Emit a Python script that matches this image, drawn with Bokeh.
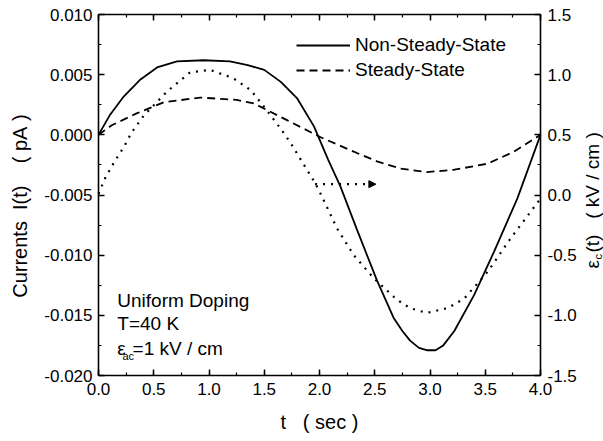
import math
from bokeh.plotting import figure
from bokeh.models import (Range1d, LinearAxis, SingleIntervalTicker, PrintfTickFormatter,
                          Legend, LegendItem, Label, Arrow, NormalHead)
from bokeh.embed import file_html
from bokeh.resources import INLINE

# ---------------- data ----------------
nss_t = [0.0, 0.1, 0.23, 0.38, 0.53, 0.71, 0.95, 1.19, 1.35, 1.5, 1.65, 1.8, 1.95, 2.08,
         2.19, 2.34, 2.52, 2.67, 2.75, 2.82, 2.90, 2.97, 3.05, 3.12, 3.22, 3.4, 3.58, 3.79, 4.0]
nss_current = [0.0, 0.0016, 0.0032, 0.0046, 0.0056, 0.0061, 0.0062, 0.0061, 0.0058, 0.0054,
               0.0044, 0.0030, 0.0007, -0.0021, -0.0043, -0.0079, -0.0121, -0.0152, -0.0163,
               -0.0171, -0.0177, -0.0179, -0.0179, -0.0175, -0.0163, -0.0133, -0.0097, -0.0053, 0.0]

ss_t = [0.0, 0.12, 0.35, 0.59, 0.92, 1.25, 1.41, 1.71, 2.01, 2.31, 2.52, 2.73, 2.97, 3.22,
        3.52, 3.76, 4.0]
ss_current = [0.0, 0.0008, 0.0018, 0.0027, 0.0031, 0.0029, 0.0026, 0.0012, -0.0002, -0.0014,
              -0.0022, -0.0028, -0.0031, -0.0029, -0.0024, -0.0014, 0.0]

field_t = [0.0, 0.06, 0.14, 0.23, 0.30, 0.41, 0.62, 0.83, 1.01, 1.22, 1.38, 1.50, 1.65, 1.74,
           1.86, 1.96, 2.01, 2.16, 2.31, 2.49, 2.70, 2.82, 2.97, 3.16, 3.31, 3.52, 3.73, 4.0]
field_kv = [0.01, 0.14, 0.27, 0.40, 0.52, 0.66, 0.86, 1.02, 1.04, 0.97, 0.87, 0.73, 0.55, 0.43,
            0.25, 0.10, 0.01, -0.28, -0.50, -0.69, -0.87, -0.94, -0.98, -0.94, -0.86, -0.64,
            -0.36, -0.03]

arrow_t = [1.96, 2.51]
arrow_field = [0.09, 0.09]

legend_labels = ["Non-Steady-State", "Steady-State"]
x_label = "t\u00a0\u00a0\u00a0(\u00a0sec\u00a0)"
y_label = "Currents\u00a0\u00a0I(t)\u00a0\u00a0\u00a0\u00a0(\u00a0pA\u00a0)" + "\u00a0" * 4
y2_label_parts = ["\u03b5", "c", "(t)\u00a0\u00a0\u00a0(\u00a0kV\u00a0/\u00a0cm\u00a0)"]
note_lines = ["Uniform Doping", "T=40 K"]
note_eps = ["\u03b5", "ac", "=1 kV / cm"]

T_MIN, T_MAX = 0.0, 4.0
I_MIN, I_MAX = -0.020, 0.010
E_MIN, E_MAX = -1.5, 1.5

FONT = "Liberation Sans"
W, H = 603, 441
# plot box inside the canvas (pixels): left, right, top, bottom
BOX_L, BOX_R, BOX_T, BOX_B = 98, 540, 14, 375

# the frame covers the whole canvas; axes sit at fixed locations around the plot box,
# so that every text around the box stays inside the (clipped) frame
px_t = (BOX_R - BOX_L) / (T_MAX - T_MIN)
px_i = (BOX_B - BOX_T) / (I_MAX - I_MIN)
px_e = (BOX_B - BOX_T) / (E_MAX - E_MIN)
x_view = Range1d(T_MIN - BOX_L / px_t, T_MAX + (W - BOX_R) / px_t)
y_view = Range1d(I_MIN - (H - BOX_B) / px_i, I_MAX + BOX_T / px_i)
e_view = Range1d(E_MIN - (H - BOX_B) / px_e, E_MAX + BOX_T / px_e)

p = figure(width=W, height=H, output_backend="svg", toolbar_location=None,
           x_range=x_view, y_range=y_view, x_axis_type=None, y_axis_type=None,
           min_border_left=0, min_border_right=0, min_border_top=0, min_border_bottom=0)
p.extra_y_ranges = {"field": e_view}
p.grid.visible = False
p.outline_line_color = None
p.background_fill_color = "white"
p.border_fill_color = "white"


def style(ax, font_size="17px"):
    ax.axis_line_width = 1.6
    ax.axis_line_color = "black"
    ax.major_tick_in = 6
    ax.major_tick_out = 0
    ax.minor_tick_in = 3
    ax.minor_tick_out = 0
    ax.major_tick_line_width = 1.5
    ax.minor_tick_line_width = 1.2
    ax.major_tick_line_color = "black"
    ax.minor_tick_line_color = "black"
    ax.major_label_text_font = FONT
    ax.major_label_text_font_size = font_size
    ax.major_label_text_color = "black"
    ax.axis_label_text_font = FONT
    ax.axis_label_text_font_size = "20px"
    ax.axis_label_text_font_style = "normal"
    ax.axis_label_text_color = "black"


xb = LinearAxis(ticker=SingleIntervalTicker(interval=0.5, num_minor_ticks=2),
                formatter=PrintfTickFormatter(format="%.1f"), axis_label=x_label,
                bounds=(T_MIN, T_MAX), fixed_location=I_MIN)
style(xb)
xb.major_label_standoff = 7
xb.axis_label_standoff = 13
p.add_layout(xb, "below")

xt = LinearAxis(ticker=SingleIntervalTicker(interval=0.5, num_minor_ticks=2),
                bounds=(T_MIN, T_MAX), fixed_location=I_MAX)
style(xt, font_size="1px")
xt.major_label_text_color = None
xt.major_label_standoff = 0
p.add_layout(xt, "above")

yl = LinearAxis(ticker=SingleIntervalTicker(interval=0.005, num_minor_ticks=2),
                formatter=PrintfTickFormatter(format="%.3f"), axis_label=y_label,
                bounds=(I_MIN, I_MAX), fixed_location=T_MIN)
style(yl)
yl.major_label_standoff = 6
yl.axis_label_standoff = 10
p.add_layout(yl, "left")

yr = LinearAxis(y_range_name="field", ticker=SingleIntervalTicker(interval=0.5, num_minor_ticks=2),
                formatter=PrintfTickFormatter(format="%.1f"), bounds=(E_MIN, E_MAX),
                fixed_location=T_MAX)
style(yr)
yr.major_label_standoff = 7
p.add_layout(yr, "right")

r_nss = p.line(nss_t, nss_current, line_color="black", line_width=1.8)
r_ss = p.line(ss_t, ss_current, line_color="black", line_width=1.8, line_dash="8 5")
p.line(field_t, field_kv, y_range_name="field", line_color="black", line_width=2.2,
       line_dash="2 6")

p.add_layout(Arrow(x_start=arrow_t[0], y_start=arrow_field[0], x_end=arrow_t[1], y_end=arrow_field[1],
                   y_range_name="field", line_color="black", line_width=2.2, line_dash="2 6",
                   end=NormalHead(size=7, fill_color="black", line_color="black", line_width=1)))

legend = Legend(items=[LegendItem(label=legend_labels[0], renderers=[r_nss]),
                       LegendItem(label=legend_labels[1], renderers=[r_ss])],
                location=(296, 360), orientation="vertical",
                border_line_alpha=0, background_fill_alpha=0, padding=0, margin=0, spacing=3,
                glyph_width=54, glyph_height=22, label_height=22, label_standoff=5,
                label_text_font=FONT, label_text_font_size="19px", label_text_color="black")
p.add_layout(legend)


def add_text(x, y, text, size="19px", angle=0.0, baseline="alphabetic"):
    p.add_layout(Label(x=x, y=y, text=text, angle=angle, text_font=FONT, text_font_size=size,
                       text_color="black", text_align="left", text_baseline=baseline))


# annotation block (lower left)
add_text(0.17, -0.01377, note_lines[0])
add_text(0.17, -0.01568, note_lines[1])
add_text(0.17, -0.01776, note_eps[0])
add_text(0.217, -0.01834, note_eps[1], size="11px")
add_text(0.308, -0.01776, note_eps[2])

# right axis label (rotated, built from pieces for the subscript)
add_text(4.47, -0.01111, y2_label_parts[0], angle=math.pi / 2, baseline="middle")
add_text(4.52, -0.01036, y2_label_parts[1], size="11px", angle=math.pi / 2, baseline="middle")
add_text(4.47, -0.00978, y2_label_parts[2], angle=math.pi / 2, baseline="middle")

open("out.html", "w").write(file_html(p, INLINE))
